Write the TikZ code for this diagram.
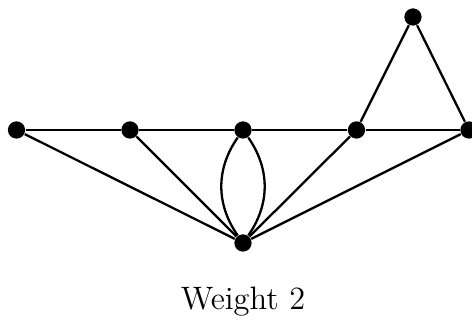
\documentclass[tikz,border=0pt]{standalone}
\begin{document}
\begin{tikzpicture}[x=0.37pt,y=-0.37pt,
  vtx/.style={circle,fill=black,inner sep=0pt,minimum size=6.4pt},
  edge/.style={line width=0.85pt}]
\useasboundingbox (0,0) rectangle (472,323);
\node[vtx] (a) at (16.5,130) {};
\node[vtx] (b) at (130,130) {};
\node[vtx] (c) at (243,130) {};
\node[vtx] (d) at (356.5,130) {};
\node[vtx] (e) at (469,130) {};
\node[vtx] (t) at (413,17) {};
\node[vtx] (z) at (243,243) {};
\draw[edge] (a) -- (b) -- (c) -- (d) -- (e);
\draw[edge] (d) -- (t) -- (e);
\draw[edge] (a) -- (z);
\draw[edge] (b) -- (z);
\draw[edge] (d) -- (z);
\draw[edge] (e) -- (z);
\draw[edge] (c) to[bend left=35] (z);
\draw[edge] (c) to[bend right=35] (z);
\node[anchor=base,font=\large] (lbl) at (243,310) {Weight 2};
\end{tikzpicture}
\end{document}
